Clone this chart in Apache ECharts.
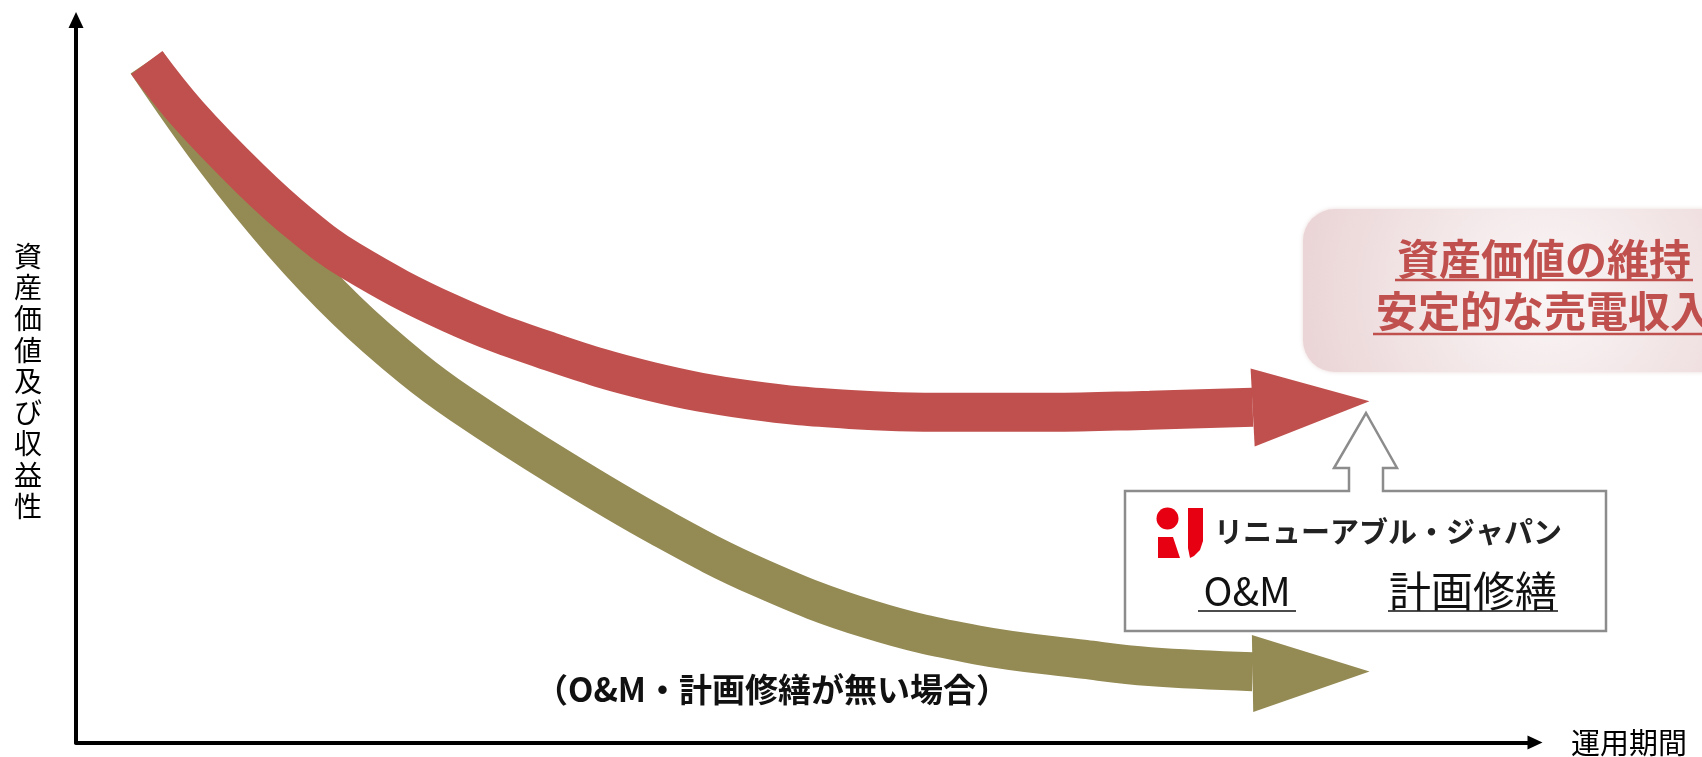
<!DOCTYPE html>
<html>
<head>
<meta charset="utf-8">
<script src="https://cdn.jsdelivr.net/npm/echarts@6/dist/echarts.min.js"></script>
<style>
html,body{margin:0;padding:0;background:#fff;}
#chart{width:1702px;height:757px;}
</style>
</head>
<body>
<div id="chart"></div>
<script>
// 運用期間 (conceptual years) and 資産価値及び収益性 (index 0-100)
const redX   = [0.97, 1.54, 2.39, 3.07, 3.76, 5.13, 6.50, 7.87, 9.24, 10.61, 11.98, 13.35, 14.72, 16.13];
const redY   = [94.1, 86.9, 78.0, 71.8, 66.7, 59.4, 54.1, 50.0, 47.4, 46.1, 45.7, 45.7, 46.0, 46.4];
const oliveX = [0.97, 1.92, 2.82, 3.71, 4.61, 5.28, 6.63, 8.01, 9.38, 10.86, 12.35, 13.83, 14.72, 16.13];
const oliveY = [94.1, 80.5, 69.3, 59.8, 51.8, 46.8, 38.0, 29.8, 22.8, 17.1, 13.5, 11.5, 10.5, 9.8];
// arrow heads (centre of each head)
const headX = [16.93, 16.93];
const headY = [46.8, 9.7];

const xAxisName = '運用期間';
const yAxisName = '資産価値及び収益性';
const noteText = '（O&M・計画修繕が無い場合）';
const goalLines = ['資産価値の維持', '安定的な売電収入'];
const companyName = 'リニューアブル・ジャパン';
const services = ['O&M', '計画修繕'];

const RED = '#C0504D', OLIVE = '#948A54';
const FONT = '"Noto Sans CJK JP", "Noto Sans", sans-serif';

const chart = echarts.init(document.getElementById('chart'), null, {renderer: 'canvas'});

const option = {
  animation: false,
  backgroundColor: '#ffffff',
  grid: {left: 76, right: 167, top: 20, bottom: 13, containLabel: false},
  xAxis: {
    type: 'value', min: 0, max: 20,
    name: xAxisName, nameLocation: 'end', nameGap: 36,
    nameTextStyle: {fontSize: 29, color: '#000', fontFamily: FONT, align: 'left', verticalAlign: 'middle'},
    axisLine: {show: true, onZero: false, symbol: ['none', 'triangle'], symbolSize: [14, 15],
               lineStyle: {color: '#000', width: 4}},
    axisTick: {show: false}, axisLabel: {show: false}, splitLine: {show: false}
  },
  yAxis: {
    type: 'value', min: 0, max: 100,
    name: yAxisName.split('').join('\n'), nameLocation: 'middle', nameGap: 48, nameRotate: 0,
    nameTextStyle: {fontSize: 28, lineHeight: 31.3, color: '#000', fontFamily: FONT, align: 'center', verticalAlign: 'middle'},
    axisLine: {show: true, onZero: false, symbol: ['none', 'triangle'], symbolSize: [15, 16],
               lineStyle: {color: '#000', width: 4}},
    axisTick: {show: false}, axisLabel: {show: false}, splitLine: {show: false}
  },
  series: [
    {
      type: 'line', name: 'without', data: oliveX.map((x, i) => [x, oliveY[i]]),
      smooth: 0.4, symbol: 'none', showSymbol: false, clip: false, silent: true, z: 2,
      lineStyle: {width: 39, color: OLIVE, cap: 'butt', opacity: 1}
    },
    {
      type: 'line', name: 'with', data: redX.map((x, i) => [x, redY[i]]),
      smooth: 0.4, symbol: 'none', showSymbol: false, clip: false, silent: true, z: 3,
      lineStyle: {width: 39, color: RED, cap: 'butt', opacity: 1}
    },
    {
      type: 'scatter', data: [[headX[1], headY[1]]], symbol: 'triangle', symbolSize: [77, 117],
      symbolRotate: -89, itemStyle: {color: OLIVE, opacity: 1}, silent: true, z: 2
    },
    {
      type: 'scatter', data: [[headX[0], headY[0]]], symbol: 'triangle', symbolSize: [78, 117],
      symbolRotate: -87, itemStyle: {color: RED, opacity: 1}, silent: true, z: 3
    }
  ],
  graphic: {
    elements: [
      // goal box
      {
        type: 'rect', z: 10,
        shape: {x: 1303, y: 209, width: 490, height: 163, r: 32},
        style: {
          fill: {type: 'radial', x: 0.5, y: 0.5, r: 1.6, colorStops: [
            {offset: 0, color: '#faf6f6'}, {offset: 0.45, color: '#f3e7e8'}, {offset: 1, color: '#ead3d4'}]},
          shadowBlur: 4, shadowColor: 'rgba(200,150,150,0.35)'
        }
      },
      {type: 'text', z: 11, style: {text: goalLines[0], x: 1544, y: 259, align: 'center', verticalAlign: 'middle',
        fontSize: 42, fontWeight: 'bold', fontFamily: FONT, fill: RED}},
      {type: 'text', z: 11, style: {text: goalLines[1], x: 1544, y: 311, align: 'center', verticalAlign: 'middle',
        fontSize: 42, fontWeight: 'bold', fontFamily: FONT, fill: RED}},
      {type: 'line', z: 11, shape: {x1: 1395, y1: 280, x2: 1693, y2: 280}, style: {stroke: RED, lineWidth: 2.5}},
      {type: 'line', z: 11, shape: {x1: 1373, y1: 334, x2: 1710, y2: 334}, style: {stroke: RED, lineWidth: 2.5}},

      // company box with up-arrow
      {
        type: 'polygon', z: 10,
        shape: {points: [[1125, 491], [1349, 491], [1349, 468], [1334, 468], [1366, 413], [1397, 468],
                         [1383, 468], [1383, 491], [1606, 491], [1606, 631], [1125, 631]]},
        style: {fill: '#ffffff', stroke: '#8c8c8c', lineWidth: 2.5}
      },
      // logo mark
      {type: 'circle', z: 11, shape: {cx: 1167.5, cy: 518.5, r: 11}, style: {fill: '#E60012'}},
      {type: 'polygon', z: 11, shape: {points: [[1158, 537], [1173, 537], [1180, 558], [1158, 558]]}, style: {fill: '#E60012'}},
      {type: 'polygon', z: 11, shape: {points: [[1188, 508], [1203, 508], [1203, 541], [1200, 550], [1194, 556],
                                                 [1190, 558], [1188, 548]]}, style: {fill: '#E60012'}},
      {type: 'text', z: 11, style: {text: companyName, x: 1214, y: 532, align: 'left', verticalAlign: 'middle',
        fontSize: 29, fontWeight: 'bold', fontFamily: FONT, fill: '#222'}},
      {type: 'text', z: 11, style: {text: services[0], x: 1247, y: 591, align: 'center', verticalAlign: 'middle',
        fontSize: 39, fontFamily: FONT, fill: '#111'}},
      {type: 'text', z: 11, style: {text: services[1], x: 1473, y: 591, align: 'center', verticalAlign: 'middle',
        fontSize: 42, fontFamily: FONT, fill: '#111'}},
      {type: 'line', z: 11, shape: {x1: 1198, y1: 611, x2: 1296, y2: 611}, style: {stroke: '#111', lineWidth: 1.5}},
      {type: 'line', z: 11, shape: {x1: 1388, y1: 611, x2: 1558, y2: 611}, style: {stroke: '#111', lineWidth: 1.5}},

      // note
      {type: 'text', z: 11, style: {text: noteText, x: 772, y: 689, align: 'center', verticalAlign: 'middle',
        fontSize: 33, fontWeight: 'bold', fontFamily: FONT, fill: '#111'}}
    ]
  }
};
chart.setOption(option);
</script>
</body>
</html>
